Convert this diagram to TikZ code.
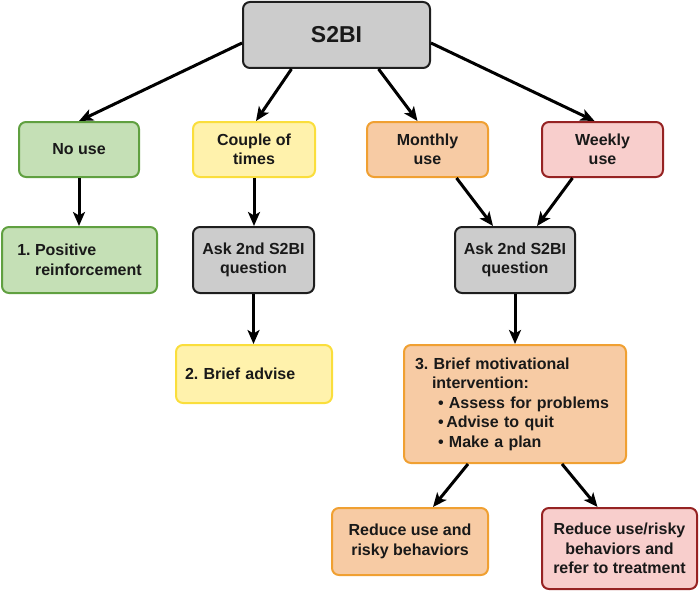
\documentclass[tikz,border=0pt]{standalone}
\usepackage{fontspec}
\setmainfont{Liberation Sans}
\usetikzlibrary{arrows.meta}
\frenchspacing
\definecolor{grayfill}{RGB}{204,204,204}
\definecolor{graydraw}{RGB}{30,30,30}
\definecolor{greenfill}{RGB}{197,224,182}
\definecolor{greendraw}{RGB}{96,160,64}
\definecolor{yellowfill}{RGB}{255,242,172}
\definecolor{yellowdraw}{RGB}{250,222,60}
\definecolor{orangefill}{RGB}{247,203,164}
\definecolor{orangedraw}{RGB}{240,160,50}
\definecolor{pinkfill}{RGB}{248,206,204}
\definecolor{pinkdraw}{RGB}{150,35,35}
\tikzset{
  box/.style={draw, rounded corners=7pt, line width=2pt, inner sep=0pt, align=center,
    font=\fontsize{16}{19.5}\selectfont\bfseries\frenchspacing, text=black!90},
  graybox/.style={box, fill=grayfill, draw=graydraw},
  greenbox/.style={box, fill=greenfill, draw=greendraw},
  yellowbox/.style={box, fill=yellowfill, draw=yellowdraw},
  orangebox/.style={box, fill=orangefill, draw=orangedraw},
  pinkbox/.style={box, fill=pinkfill, draw=pinkdraw},
  arr/.style={line width=3pt, -{Stealth[length=14pt,width=12pt,inset=3.5pt]}},
}
\begin{document}
\begin{tikzpicture}[x=1pt,y=-1pt]
\useasboundingbox (0,0) rectangle (700,591);
% top
\node[graybox, minimum width=187pt, minimum height=66pt, font=\fontsize{23}{27}\selectfont\bfseries] (s2bi) at (336.5,35) {S2BI};
% row 2
\node[greenbox, minimum width=120pt, minimum height=55pt] (nouse) at (79,149.5) {No use};
\node[yellowbox, minimum width=122pt, minimum height=55pt] (couple) at (254,149.5) {Couple of\\times};
\node[orangebox, minimum width=121pt, minimum height=55pt] (monthly) at (427.5,149.5) {Monthly\\use};
\node[pinkbox, minimum width=121pt, minimum height=55pt] (weekly) at (602.5,149.5) {Weekly\\use};
% row 3
\node[greenbox, minimum width=155pt, minimum height=66pt, align=left] (pos) at (79.5,260) {1. Positive\\\phantom{1. }reinforcement};
\node[graybox, minimum width=121pt, minimum height=66pt] (askl) at (253.5,260) {Ask 2nd S2BI\\question};
\node[graybox, minimum width=120pt, minimum height=66pt] (askr) at (515,260) {Ask 2nd S2BI\\question};
% row 4
\node[yellowbox, minimum width=156pt, minimum height=58pt, text width=138pt, align=left] (brief) at (254,374) {2. Brief advise};
\node[orangebox, minimum width=222pt, minimum height=118pt, text width=200pt, align=left] (mbi) at (515,404) {3. Brief motivational\\
\hspace*{17pt}intervention:\\
\hspace*{23pt}\textbullet\ Assess for problems\\
\hspace*{23pt}\textbullet\,Advise to quit\\
\hspace*{23pt}\textbullet\ Make a plan};
% row 5
\node[orangebox, minimum width=156pt, minimum height=67pt] (red1) at (410,541.5) {Reduce use and\\risky behaviors};
\node[pinkbox, minimum width=155pt, minimum height=81pt] (red2) at (619.5,548.5) {Reduce use/risky\\behaviors and\\refer to treatment};
% arrows
\draw[arr] ([yshift=-8pt]s2bi.west) -- (nouse.north);
\draw[arr] ([xshift=-45pt]s2bi.south) -- ([xshift=2pt]couple.north);
\draw[arr] ([xshift=42pt]s2bi.south) -- ([xshift=-10pt]monthly.north);
\draw[arr] ([yshift=-8pt]s2bi.east) -- ([xshift=-8pt]weekly.north);
\draw[arr] (nouse.south) -- (pos.north-|nouse.south);
\draw[arr] (couple.south) -- (askl.north-|couple.south);
\draw[arr] (askl.south) -- (brief.north-|askl.south);
\draw[arr] ([xshift=29pt]monthly.south) -- ([xshift=-22pt]askr.north);
\draw[arr] ([xshift=-30pt]weekly.south) -- ([xshift=22pt]askr.north);
\draw[arr] (askr.south) -- (mbi.north);
\draw[arr] ([xshift=-47pt]mbi.south) -- ([xshift=23pt]red1.north);
\draw[arr] ([xshift=47pt]mbi.south) -- ([xshift=-22pt]red2.north);
\end{tikzpicture}
\end{document}
